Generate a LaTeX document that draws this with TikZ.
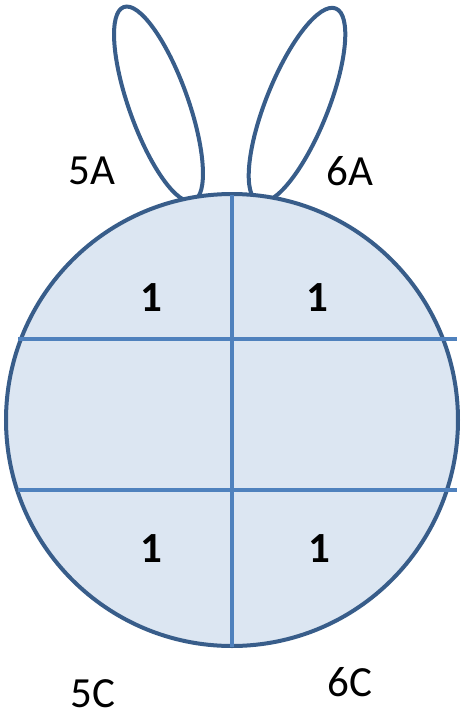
\documentclass[tikz,border=0pt]{standalone}
\usepackage{fontspec}
\setmainfont{Carlito}
\definecolor{outl}{HTML}{385D8A}
\definecolor{inl}{HTML}{4F81BD}
\definecolor{headfill}{HTML}{DCE6F2}
\begin{document}
\begin{tikzpicture}[x=1pt,y=-1pt,
  earline/.style={draw=outl, line width=4pt, fill=white},
  headline/.style={draw=outl, line width=4pt, fill=headfill},
  gridline/.style={draw=inl, line width=3.2pt},
  lbl/.style={font=\fontsize{43}{50}\selectfont, text=black, inner sep=0pt},
  num/.style={font=\fontsize{43}{50}\selectfont\bfseries, text=black, inner sep=0pt}]
\useasboundingbox (0,0) rectangle (461,716);
% ears
\draw[earline, rotate around={109.7:(158.5,104)}] (158.5,104) ellipse [x radius=103pt, y radius=29.5pt];
\draw[earline, rotate around={68.1:(297,105)}] (297,105) ellipse [x radius=104pt, y radius=31pt];
% head
\draw[headline] (232,420) circle [radius=226pt];
% grid
\coordinate (h1l) at (18,339); \coordinate (h1r) at (457,339);
\coordinate (h2l) at (18,490); \coordinate (h2r) at (457,490);
\coordinate (vt) at (232,195); \coordinate (vb) at (232,647);
\draw[gridline] (h1l) -- (h1r);
\draw[gridline] (h2l) -- (h2r);
\draw[gridline] (vt) -- (vb);
% labels
\node[lbl] (l5a) at (92,171) {5A};
\node[lbl] (l6a) at (350,171) {6A};
\node[lbl] (l5c) at (93,694) {5C};
\node[lbl] (l6c) at (350,682) {6C};
\node[num] (n1) at (151,298) {1};
\node[num] (n2) at (317,298) {1};
\node[num] (n3) at (151,549) {1};
\node[num] (n4) at (319,549) {1};
\end{tikzpicture}
\end{document}
